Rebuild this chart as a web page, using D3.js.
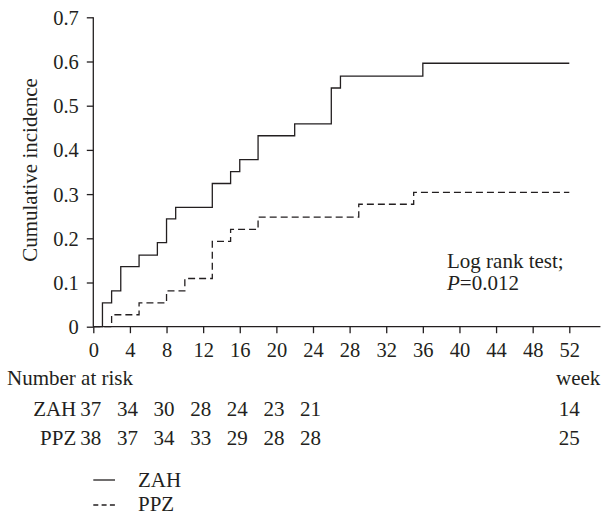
<!DOCTYPE html>
<html><head><meta charset="utf-8">
<script src="https://cdn.jsdelivr.net/npm/d3@7"></script>
<style>
#c text{font-family:'Liberation Serif',serif !important;}
</style>
</head>
<body style="margin:0;background:#fff">
<svg id="c" width="603" height="517" font-family="Liberation Serif" style="font-family:'Liberation Serif',serif"></svg>
<script>
// Data
const zahTimes  = [0, 1, 2, 3, 5, 7, 8, 9, 13, 15, 16, 18, 22, 26, 27, 36, 52];
const zahValues = [0, 0.054, 0.081, 0.136, 0.162, 0.190, 0.244, 0.270, 0.324, 0.351, 0.378, 0.432, 0.459, 0.540, 0.567, 0.596, 0.596];
const ppzTimes  = [0, 2, 5, 8, 10, 13, 15, 18, 29, 35, 52];
const ppzValues = [0, 0.027, 0.054, 0.081, 0.109, 0.193, 0.220, 0.248, 0.277, 0.304, 0.304];
const xTicks = [0,4,8,12,16,20,24,28,32,36,40,44,48,52];
const yTicks = [0,0.1,0.2,0.3,0.4,0.5,0.6,0.7];
const riskWeeks = [0,4,8,12,16,20,24,52];
const riskZAH = ["37","34","30","28","24","23","21","14"];
const riskPPZ = ["38","37","34","33","29","28","28","25"];
const seriesNames = ["ZAH","PPZ"];

const ink = "#231f20";
const svg = d3.select("#c");
const x = d3.scaleLinear().domain([0,52]).range([93.3,569.3]);
const y = d3.scaleLinear().domain([0,0.7]).range([326.7,17.3]);
const fs = 21, tfs = 20.5;

function txt(sel, size){
  sel.attr("font-family","Liberation Serif").attr("font-size",size).attr("fill",ink);
  sel.each(function(){ this.style.setProperty("font-family","'Liberation Serif', serif","important"); });
  return sel;
}

// y axis
const gy = svg.append("g").attr("transform",`translate(${x(0)},0)`)
  .call(d3.axisLeft(y).tickValues(yTicks).tickSize(6.5).tickPadding(8)
  .tickFormat(d=> d===0 ? "0" : d3.format(".1f")(d)));
gy.select(".domain").attr("d",`M0,${y(0)}V${y(0.7)}`);
// x axis
const gx = svg.append("g").attr("transform",`translate(0,${y(0)})`)
  .call(d3.axisBottom(x).tickValues(xTicks).tickSize(6.5).tickPadding(9));
gx.select(".domain").attr("d",`M${x(0)},0H${x(55.4)}`);
[gx,gy].forEach(g=>{
  g.attr("font-family","Liberation Serif").attr("font-size",tfs);
  g.selectAll("path,line").attr("stroke",ink).attr("stroke-width",1.3);
  txt(g.selectAll("text"), tfs);
});
gx.selectAll("text").attr("dy",null).attr("y",30);
gy.selectAll("text").attr("dy","0.34em");

// y label
txt(svg.append("text").attr("transform",`translate(36.5,170) rotate(-90)`)
  .attr("text-anchor","middle"), 21).text("Cumulative incidence");

// curves
const line = d3.line().x(d=>x(d[0])).y(d=>y(d[1])).curve(d3.curveStepAfter);
const zah = zahTimes.map((t,i)=>[t,zahValues[i]]);
const ppz = ppzTimes.map((t,i)=>[t,ppzValues[i]]);
svg.append("path").attr("d",line(zah)).attr("fill","none").attr("stroke",ink).attr("stroke-width",1.3);
svg.append("path").attr("d",line(ppz)).attr("fill","none").attr("stroke",ink).attr("stroke-width",1.3)
  .attr("stroke-dasharray","7,4");

// annotation
txt(svg.append("text").attr("x",447).attr("y",268), fs).text("Log rank test;");
const pt = txt(svg.append("text").attr("x",447).attr("y",290), fs);
pt.append("tspan").attr("font-style","italic").text("P");
pt.append("tspan").text("=0.012");

// risk table
txt(svg.append("text").attr("x",7).attr("y",385), fs).text("Number at risk");
txt(svg.append("text").attr("x",556).attr("y",385), fs).text("week");
const rows = [[seriesNames[0],riskZAH,416],[seriesNames[1],riskPPZ,445]];
rows.forEach(([name,vals,yy])=>{
  txt(svg.append("text").attr("x",x(0)-17).attr("y",yy).attr("text-anchor","end"), fs).text(name);
  txt(svg.selectAll(null).data(vals).enter().append("text")
    .attr("x",(d,i)=>x(riskWeeks[i]) - (riskWeeks[i]===52 ? 0 : 2.5)).attr("y",yy).attr("text-anchor","middle"), fs)
    .text(d=>d);
});

// legend
const leg = [[seriesNames[0],null,480,487],[seriesNames[1],"5,3.3",505,511]];
leg.forEach(([name,dash,ly,ty])=>{
  const l = svg.append("line").attr("x1",93.3).attr("x2",115).attr("y1",ly).attr("y2",ly)
    .attr("stroke",ink).attr("stroke-width",1.3);
  if(dash) l.attr("stroke-dasharray",dash);
  txt(svg.append("text").attr("x",138).attr("y",ty), fs).text(name);
});
</script></body></html>
